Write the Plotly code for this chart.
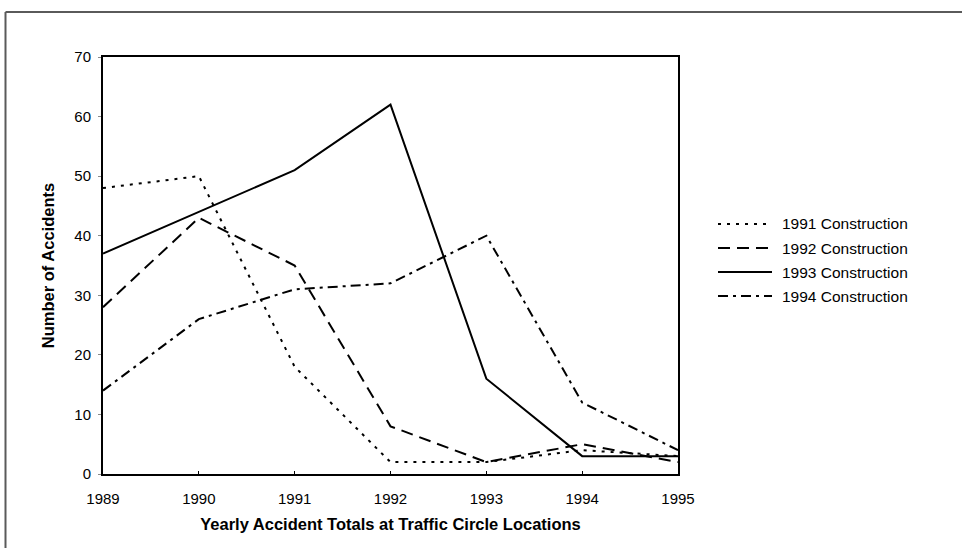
import plotly.graph_objects as go

years = [1989, 1990, 1991, 1992, 1993, 1994, 1995]
series_names = ["1991 Construction", "1992 Construction", "1993 Construction", "1994 Construction"]
acc_1991 = [48, 50, 18, 2, 2, 4, 3]
acc_1992 = [28, 43, 35, 8, 2, 5, 2]
acc_1993 = [37, 44, 51, 62, 16, 3, 3]
acc_1994 = [14, 26, 31, 32, 40, 12, 4]
y_ticks = [0, 10, 20, 30, 40, 50, 60, 70]

values = [acc_1991, acc_1992, acc_1993, acc_1994]
dashes = ["3px,6px", "12px,7px", "solid", "10px,5px,3px,5px"]
widths = [2, 2, 2, 2]

# plot-area geometry in pixels (used for placing the hand-drawn legend)
W, H = 962, 548
L, R, T, B = 103, 284, 57, 74
pw, ph = W - L - R, H - T - B


def px_x(px):
    return (px - L) / pw


def px_y(py):
    return (H - B - py) / ph


FONT = "Liberation Sans, Arial"

fig = go.Figure()
for name, vals, dash, w in zip(series_names, values, dashes, widths):
    fig.add_trace(go.Scatter(
        x=years, y=vals, name=name, mode="lines",
        line=dict(color="black", width=w, dash=dash),
        showlegend=False,
    ))

# legend drawn as line samples with labels
legend_rows = [224, 248, 272, 296]
for name, dash, w, ry in zip(series_names, dashes, widths, legend_rows):
    fig.add_shape(type="line", xref="paper", yref="paper",
                  x0=px_x(718), x1=px_x(772), y0=px_y(ry), y1=px_y(ry),
                  line=dict(color="black", width=w, dash=dash))
    fig.add_annotation(text=name, xref="paper", yref="paper",
                       x=px_x(780), y=px_y(ry), xanchor="left", yanchor="middle",
                       showarrow=False,
                       font=dict(family=FONT, size=15.5, color="black"))

# outer page frame (top and left edges)
fig.add_shape(type="line", xref="paper", yref="paper",
              x0=px_x(5.5), x1=px_x(965), y0=px_y(12), y1=px_y(12),
              line=dict(color="#5a5a5a", width=2))
fig.add_shape(type="line", xref="paper", yref="paper",
              x0=px_x(5.5), x1=px_x(5.5), y0=px_y(12), y1=px_y(560),
              line=dict(color="#5a5a5a", width=2))

axis_font = dict(family=FONT, size=15, color="black")
title_font = dict(family=FONT, size=16.5, color="black")
fig.update_layout(
    width=W, height=H,
    margin=dict(l=L, r=R, t=T, b=B),
    paper_bgcolor="white", plot_bgcolor="white",
    font=axis_font,
    xaxis=dict(
        range=[1989, 1995], tickvals=years, ticktext=[str(y) for y in years],
        showgrid=False, zeroline=False,
        showline=True, linecolor="black", linewidth=2, mirror=True,
        ticks="inside", ticklen=3, tickcolor="black",
        ticklabelstandoff=10, tickfont=axis_font,
        title=dict(text="<b>Yearly Accident Totals at Traffic Circle Locations</b>",
                   font=title_font, standoff=12),
    ),
    yaxis=dict(
        range=[0, 70], tickvals=y_ticks,
        showgrid=False, zeroline=False,
        showline=True, linecolor="black", linewidth=2, mirror=True,
        ticks="outside", ticklen=3, tickcolor="#888",
        ticklabelstandoff=4, tickfont=axis_font,
        title=dict(text="<b>Number of Accidents</b>",
                   font=title_font, standoff=16),
    ),
)

fig.write_html("out.html")
